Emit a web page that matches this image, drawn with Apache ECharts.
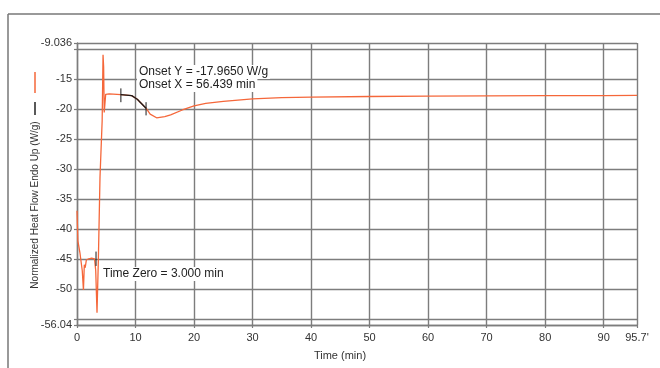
<!DOCTYPE html>
<html>
<head>
<meta charset="utf-8">
<script src="https://cdn.jsdelivr.net/npm/echarts@6/dist/echarts.min.js"></script>
<style>html,body{margin:0;padding:0;background:#fff;}#c{width:660px;height:368px;}</style>
</head>
<body>
<div id="c"></div>
<script>
// ---- data ----
var xTicks = [0, 10, 20, 30, 40, 50, 60, 70, 80, 90, 95.7];
var xTickLabels = ['0', '10', '20', '30', '40', '50', '60', '70', '80', '90', "95.7'"];
var yTicks = [-56.04, -55, -50, -45, -40, -35, -30, -25, -20, -15, -10, -9.036];
var yLabelValues = [-56.04, -50, -45, -40, -35, -30, -25, -20, -15, -9.036];
var yLabelTexts = ['-56.04', '-50', '-45', '-40', '-35', '-30', '-25', '-20', '-15', '-9.036'];

var heatFlow = [
  [0, -37], [0.15, -42], [0.5, -44], [0.9, -47], [1.1, -50.2], [1.25, -46], [1.4, -46.5],
  [1.6, -45.2], [2.0, -45], [2.5, -44.9], [3.0, -45], [3.2, -47], [3.42, -54], [3.65, -45.2],
  [3.93, -31.4], [4.3, -22], [4.45, -11], [4.55, -13], [4.65, -20.6], [4.8, -20.4],
  [4.9, -17.6], [5.5, -17.5], [7.5, -17.65], [9.35, -17.8], [10.3, -18.4], [11.05, -19.15],
  [11.8, -19.9], [12.5, -20.9], [13.6, -21.5], [15, -21.3], [16, -21.0], [18, -20.2],
  [20, -19.5], [22, -19.1], [25, -18.75], [30, -18.35], [35, -18.15], [40, -18.05],
  [50, -17.95], [60, -17.9], [70, -17.85], [80, -17.8], [90, -17.8], [95.7, -17.78]
];
var onsetTangent = [[7.5, -17.65], [9.35, -17.8], [10.3, -18.4], [11.05, -19.15], [11.8, -19.9]];
var zeroTick = [[3.25, -43.8], [3.25, -46.2]];
var onsetStartTick = [[7.5, -16.6], [7.5, -18.9]];
var onsetEndTick = [[11.8, -18.9], [11.8, -21.1]];

var ORANGE = '#f5673a';
var GRID = '#7d7d7d';
var FONT = '"Liberation Sans", Arial, sans-serif';

var chart = echarts.init(document.getElementById('c'), null, {renderer: 'canvas'});

function blackSeries(d, w) {
  return {type: 'line', data: d, showSymbol: false, symbol: 'none', z: 4,
    lineStyle: {color: '#1a1a1a', width: w}, animation: false};
}

chart.setOption({
  animation: false,
  backgroundColor: '#fff',
  grid: {left: 77, right: 23, top: 43, bottom: 43, containLabel: false},
  xAxis: {
    type: 'value', min: 0, max: 95.7,
    name: 'Time (min)', nameLocation: 'middle', nameGap: 25,
    nameTextStyle: {color: '#333', fontSize: 11, fontFamily: FONT, padding: [0, 34, 0, 0]},
    axisLine: {show: true, lineStyle: {color: GRID, width: 1.4}},
    axisTick: {show: true, length: 3, customValues: xTicks, lineStyle: {color: GRID, width: 1.2}},
    axisLabel: {customValues: xTicks, color: '#333', fontSize: 11, fontFamily: FONT, margin: 7,
      formatter: function (v) { var i = xTicks.indexOf(v); return i >= 0 ? xTickLabels[i] : ''; }},
    splitLine: {show: true, lineStyle: {color: GRID, width: 1.4}}
  },
  yAxis: {
    type: 'value', min: -56.04, max: -9.036,
    axisLine: {show: true, lineStyle: {color: GRID, width: 1.4}},
    axisTick: {show: true, length: 3, customValues: yTicks, lineStyle: {color: GRID, width: 1.2}},
    axisLabel: {customValues: yLabelValues, color: '#333', fontSize: 11, fontFamily: FONT, margin: 5,
      formatter: function (v) { var i = yLabelValues.indexOf(v); return i >= 0 ? yLabelTexts[i] : ''; }},
    splitLine: {show: true, lineStyle: {color: GRID, width: 1.4}}
  },
  series: [
    {type: 'line', data: heatFlow, showSymbol: false, symbol: 'none', z: 3,
      lineStyle: {color: ORANGE, width: 1.3}, animation: false},
    blackSeries(onsetTangent, 1.3),
    blackSeries(zeroTick, 1),
    blackSeries(onsetStartTick, 1),
    blackSeries(onsetEndTick, 1)
  ],
  graphic: [
    {type: 'line', shape: {x1: 8, y1: 14, x2: 8, y2: 368}, style: {stroke: '#777', lineWidth: 1.5}, silent: true},
    {type: 'line', shape: {x1: 8, y1: 14, x2: 660, y2: 14}, style: {stroke: '#777', lineWidth: 1.5}, silent: true},
    {type: 'text', x: 35, y: 205, rotation: Math.PI / 2,
      style: {text: 'Normalized Heat Flow Endo Up (W/g)', fill: '#333', fontSize: 10, fontFamily: FONT,
        align: 'center', verticalAlign: 'middle'}},
    {type: 'line', shape: {x1: 35, y1: 72, x2: 35, y2: 93}, style: {stroke: ORANGE, lineWidth: 1.5}},
    {type: 'line', shape: {x1: 35, y1: 102, x2: 35, y2: 115}, style: {stroke: '#222', lineWidth: 1.5}},
    {type: 'text', x: 137, y: 72, z: 10,
      style: {text: 'Onset Y = -17.9650 W/g', fill: '#222', fontSize: 12, fontFamily: FONT,
        verticalAlign: 'middle', backgroundColor: '#fff', padding: [1, 2, 1, 2]}},
    {type: 'text', x: 137, y: 85, z: 10,
      style: {text: 'Onset X = 56.439 min', fill: '#222', fontSize: 12, fontFamily: FONT,
        verticalAlign: 'middle', backgroundColor: '#fff', padding: [1, 2, 1, 2]}},
    {type: 'text', x: 101, y: 274, z: 10,
      style: {text: 'Time Zero = 3.000 min', fill: '#222', fontSize: 12, fontFamily: FONT,
        verticalAlign: 'middle', backgroundColor: '#fff', padding: [1, 2, 1, 2]}}
  ]
});
</script>
</body>
</html>
